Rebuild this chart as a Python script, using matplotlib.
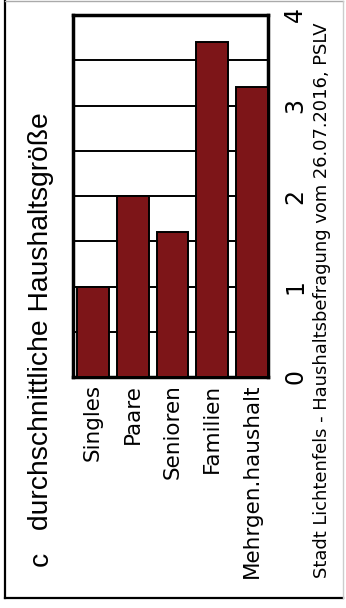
import numpy as np
import matplotlib.pyplot as plt
from matplotlib.lines import Line2D

categories = ['Singles', 'Paare', 'Senioren', 'Familien', 'Mehrgen.haushalt']
values = [1.0, 2.0, 1.6, 3.7, 3.2]
value_ticks = [0, 1, 2, 3, 4]

title = 'durchschnittliche Haushaltsgröße'
source = 'Stadt Lichtenfels - Haushaltsbefragung vom 26.07.2016, PSLV'

W, H = 346, 608
fig = plt.figure(figsize=(W / 100, H / 100), dpi=100)
fig.patch.set_facecolor('white')

# chart is laid out turned by 90 degrees: values run upwards, text reads bottom-to-top
ax = fig.add_axes([73 / W, 1 - 377 / H, (268 - 73) / W, (377 - 15) / H])
x = np.arange(len(categories))
ax.bar(x, values, width=0.8, color='#7d1518', edgecolor='black', linewidth=1.4, zorder=3)
ax.set_xlim(-0.5, 4.4)
ax.set_ylim(0, 4)

for g in np.arange(0.5, 4, 0.5):
    ax.axhline(g, color='black', linewidth=1.4, zorder=1)

for s in ax.spines.values():
    s.set_linewidth(2.5)
    s.set_color('black')

ax.set_xticks(x)
ax.set_xticklabels(categories, rotation=90, fontsize=15.5, family='DejaVu Sans')
ax.tick_params(axis='x', length=0, pad=5)
for lab in ax.get_xticklabels():
    lab.set_va('top')
    lab.set_ha('center')

ax.yaxis.tick_right()
ax.set_yticks(value_ticks)
ax.set_yticklabels([str(v) for v in value_ticks], fontsize=17, family='DejaVu Sans')
ax.tick_params(axis='y', length=0, pad=11)
for lab in ax.get_yticklabels():
    lab.set_rotation(90)
    lab.set_va('center')
    lab.set_ha('left')

fig.text(41 / W, 1 - 530 / H, title, rotation=90, ha='center', va='bottom',
         fontsize=20.3, family='Liberation Sans')
fig.text(41 / W, 1 - 559 / H, 'c', rotation=90, ha='center', va='center',
         fontsize=20.3, family='Liberation Sans')
fig.text(322 / W, 1 - 300 / H, source, rotation=90, ha='center', va='center',
         fontsize=12.9, family='DejaVu Sans')

# outer frame
fig.add_artist(Line2D([5 / W, 5 / W], [1 - 1 / H, 1 - 598 / H], color='black', lw=1.6))
fig.add_artist(Line2D([5 / W, 343 / W], [1 - 598 / H, 1 - 598 / H], color='black', lw=1.6))
fig.add_artist(Line2D([5 / W, 343 / W], [1 - 1 / H, 1 - 1 / H], color='#aaaaaa', lw=1.0))
fig.add_artist(Line2D([343 / W, 343 / W], [1 - 1 / H, 1 - 598 / H], color='#cccccc', lw=1.0))

fig.savefig('out.png', dpi=100)
